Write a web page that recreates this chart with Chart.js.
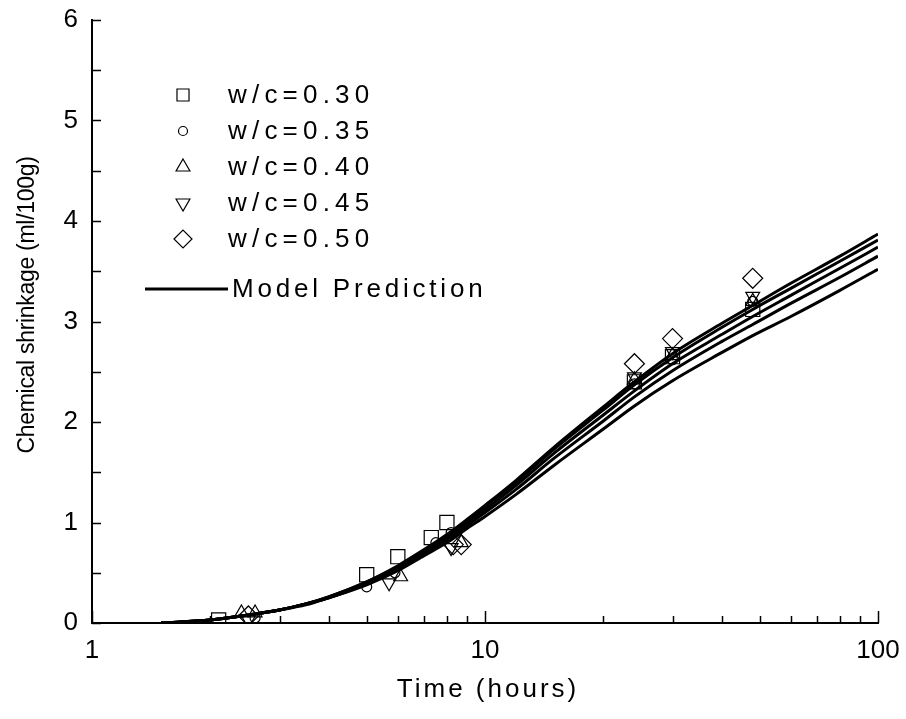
<!DOCTYPE html>
<html lang="en">
<head>
<meta charset="UTF-8">
<title>Chemical shrinkage vs time</title>
<style>
  body { margin: 0; background: #fff; }
  #wrap { width: 906px; height: 719px; }
</style>
<script src="https://cdn.jsdelivr.net/npm/chart.js"></script>
</head>
<body>
<div id="wrap"><canvas id="shrinkChart"></canvas></div>
<script>
// model prediction curves, time grid in hours
const modelTimes = [1.5, 2, 2.5, 3, 3.5, 4, 5, 6, 7, 8, 9, 10, 12, 15, 20, 24, 30, 40, 48, 60, 80, 100];
const model030 = [0, 0.03, 0.08, 0.13, 0.18, 0.25, 0.38, 0.52, 0.67, 0.80, 0.94, 1.06, 1.28, 1.57, 1.93, 2.16, 2.41, 2.69, 2.86, 3.05, 3.31, 3.52];
const model035 = [0, 0.03, 0.08, 0.13, 0.19, 0.25, 0.39, 0.54, 0.69, 0.83, 0.97, 1.10, 1.33, 1.64, 2.01, 2.25, 2.51, 2.80, 2.97, 3.18, 3.44, 3.65];
const model040 = [0, 0.03, 0.08, 0.13, 0.19, 0.25, 0.40, 0.55, 0.71, 0.85, 1.00, 1.13, 1.37, 1.69, 2.07, 2.31, 2.58, 2.87, 3.05, 3.26, 3.53, 3.74];
const model045 = [0, 0.03, 0.08, 0.13, 0.19, 0.26, 0.41, 0.56, 0.72, 0.87, 1.02, 1.16, 1.40, 1.73, 2.12, 2.37, 2.64, 2.94, 3.12, 3.33, 3.60, 3.81];
const model050 = [0, 0.03, 0.08, 0.13, 0.19, 0.26, 0.41, 0.57, 0.73, 0.88, 1.03, 1.17, 1.42, 1.75, 2.15, 2.40, 2.68, 2.98, 3.16, 3.38, 3.65, 3.87];

// measured points
const time030 = [2.1, 5.0, 6.0, 7.3, 8.0, 24, 30, 48];
const meas030 = [0.03, 0.48, 0.66, 0.85, 1.00, 2.40, 2.65, 3.12];
const time035 = [2.6, 5.0, 5.9, 7.5, 8.2, 24, 30, 48];
const meas035 = [0.05, 0.36, 0.50, 0.80, 0.90, 2.38, 2.62, 3.20];
const time040 = [2.4, 2.6, 6.1, 8.7, 24, 30, 48];
const meas040 = [0.10, 0.10, 0.46, 0.80, 2.42, 2.66, 3.20];
const time045 = [2.5, 5.7, 8.2, 24, 30, 48];
const meas045 = [0.03, 0.40, 0.75, 2.45, 2.70, 3.25];
const time050 = [2.5, 8.3, 8.7, 24, 30, 48];
const meas050 = [0.07, 0.78, 0.78, 2.58, 2.83, 3.43];

const seriesLabels = ['w/c=0.30', 'w/c=0.35', 'w/c=0.40', 'w/c=0.45', 'w/c=0.50'];
const xTickValues = [1, 10, 100];
const yTickValues = [0, 1, 2, 3, 4, 5, 6];

const FONT = '"Liberation Sans", Arial, sans-serif';

function pts(xs, ys) {
    return xs.map((x, i) => ({ x: x, y: ys[i] }));
}

function modelSet(ys) {
    return {
        type: 'line',
        data: pts(modelTimes, ys),
        borderColor: '#000',
        borderWidth: 3,
        pointRadius: 0,
        fill: false,
        cubicInterpolationMode: 'monotone',
        order: 2
    };
}

// marker styles for the five measured series
const markers = [
    { pointStyle: 'rect', radius: 10, rotation: 0 },
    { pointStyle: 'circle', radius: 5, rotation: 0 },
    { pointStyle: 'triangle', radius: 8, rotation: 0 },
    { pointStyle: 'triangle', radius: 8, rotation: 180 },
    { pointStyle: 'rectRot', radius: 10, rotation: 0 }
];

function measSet(xs, ys, i) {
    return {
        type: 'scatter',
        label: seriesLabels[i],
        data: pts(xs, ys),
        pointStyle: markers[i].pointStyle,
        pointRotation: markers[i].rotation,
        pointRadius: markers[i].radius,
        pointBorderWidth: 1.2,
        pointBorderColor: '#000',
        pointBackgroundColor: 'rgba(255,255,255,0)',
        showLine: false,
        order: 1
    };
}

// inward tick marks, axis titles and legend
const decorations = {
    id: 'decorations',
    beforeDraw(chart) {
        chart.ctx.letterSpacing = '0px';
    },
    afterDraw(chart) {
        const ctx = chart.ctx;
        const xs = chart.scales.x, ys = chart.scales.y;
        const area = chart.chartArea;
        ctx.save();
        ctx.strokeStyle = '#000';
        ctx.lineWidth = 1.5;
        ctx.beginPath();
        for (let d = 1; d < 100; d *= 10) {
            for (let k = 1; k <= 10; k++) {
                const v = d * k;
                if (v > 100) break;
                const px = Math.round(xs.getPixelForValue(v)) + 0.5;
                const len = (k === 1 || k === 10) ? 12 : 7;
                ctx.moveTo(px, area.bottom);
                ctx.lineTo(px, area.bottom - len);
            }
        }
        for (let v = 0; v <= 6; v += 0.5) {
            const py = Math.round(ys.getPixelForValue(v)) + 0.5;
            ctx.moveTo(area.left, py);
            ctx.lineTo(area.left + 9, py);
        }
        ctx.stroke();

        ctx.fillStyle = '#000';
        ctx.textBaseline = 'middle';

        // axis titles
        ctx.textAlign = 'center';
        ctx.font = '26px ' + FONT;
        ctx.letterSpacing = '3px';
        ctx.fillText('Time (hours)', (area.left + area.right) / 2 + 3, 690);
        ctx.save();
        ctx.translate(28, 305);
        ctx.rotate(-Math.PI / 2);
        ctx.font = '23px ' + FONT;
        ctx.letterSpacing = '-0.3px';
        ctx.fillText('Chemical shrinkage (ml/100g)', 0, 0);
        ctx.restore();

        // legend
        const lx = 183, tx = 228;
        const rows = [95, 131, 167, 203, 239];
        ctx.font = '26px ' + FONT;
        ctx.letterSpacing = '5.2px';
        ctx.textAlign = 'left';
        rows.forEach((y, i) => {
            const m = markers[i];
            const r = i === 1 ? 4.5 : (i === 0 ? 8.5 : (i === 4 ? 9 : 8));
            ctx.lineWidth = 1.2;
            ctx.strokeStyle = '#000';
            ctx.fillStyle = 'rgba(255,255,255,0)';
            if (Chart.helpers && Chart.helpers.drawPoint) {
                Chart.helpers.drawPoint(ctx, {
                    pointStyle: m.pointStyle,
                    rotation: m.rotation,
                    radius: r,
                    borderWidth: 1.2
                }, lx, y);
            }
            ctx.fillStyle = '#000';
            ctx.fillText(seriesLabels[i], tx, y + 1);
        });
        ctx.lineWidth = 3;
        ctx.beginPath();
        ctx.moveTo(145, 289);
        ctx.lineTo(228, 289);
        ctx.stroke();
        ctx.letterSpacing = '3.8px';
        ctx.fillText('Model Prediction', 232, 290);
        ctx.restore();
    }
};

const ctx = document.getElementById('shrinkChart').getContext('2d');
new Chart(ctx, {
    type: 'scatter',
    data: {
        datasets: [
            modelSet(model030), modelSet(model035), modelSet(model040),
            modelSet(model045), modelSet(model050),
            measSet(time030, meas030, 0), measSet(time035, meas035, 1),
            measSet(time040, meas040, 2), measSet(time045, meas045, 3),
            measSet(time050, meas050, 4)
        ]
    },
    options: {
        responsive: true,
        maintainAspectRatio: false,
        animation: false,
        layout: { padding: { top: 20, right: 28, left: 0, bottom: 0 } },
        plugins: {
            legend: { display: false },
            tooltip: { enabled: false }
        },
        scales: {
            x: {
                type: 'logarithmic',
                min: 1,
                max: 100,
                afterBuildTicks: s => { s.ticks = xTickValues.map(v => ({ value: v })); },
                afterFit: s => { s.height = 96; s.paddingLeft = 0; s.paddingRight = 0; },
                grid: { display: false, drawTicks: false, tickLength: 0 },
                border: { display: true, color: '#000', width: 2 },
                ticks: {
                    color: '#000',
                    font: { family: FONT, size: 26 },
                    padding: 12,
                    maxRotation: 0,
                    autoSkip: false,
                    callback: v => String(v)
                }
            },
            y: {
                min: 0,
                max: 6,
                afterBuildTicks: s => { s.ticks = yTickValues.map(v => ({ value: v })); },
                afterFit: s => { s.width = 92; s.paddingTop = 0; s.paddingBottom = 0; },
                grid: { display: false, drawTicks: false, tickLength: 0 },
                border: { display: true, color: '#000', width: 2 },
                ticks: {
                    color: '#000',
                    font: { family: FONT, size: 26 },
                    padding: 14
                }
            }
        }
    },
    plugins: [decorations]
});
</script>
</body>
</html>
